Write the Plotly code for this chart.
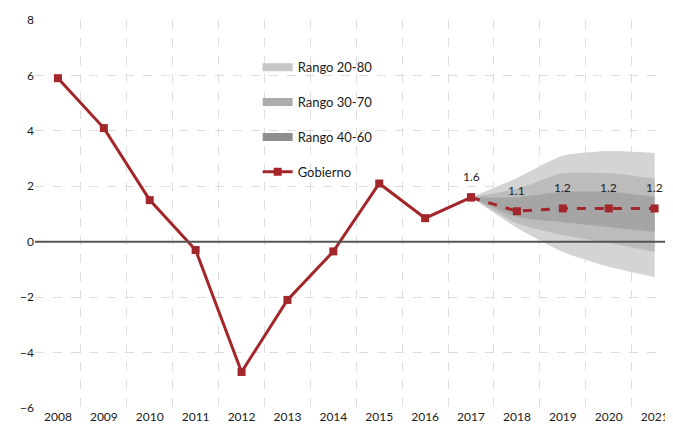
import plotly.graph_objects as go

years = [2008, 2009, 2010, 2011, 2012, 2013, 2014, 2015, 2016, 2017]
gobierno = [5.9, 4.1, 1.5, -0.3, -4.7, -2.1, -0.35, 2.1, 0.85, 1.6]

fc_years = [2017, 2018, 2019, 2020, 2021]
fc_values = [1.6, 1.1, 1.2, 1.2, 1.2]
fc_labels = ["1.6", "1.1", "1.2", "1.2", "1.2"]

r2080_hi = [1.6, 2.3, 3.1, 3.27, 3.2]
r2080_lo = [1.6, 0.5, -0.37, -0.9, -1.27]
r3070_hi = [1.6, 1.9, 2.47, 2.47, 2.28]
r3070_lo = [1.6, 0.67, 0.24, -0.05, -0.37]
r4060_hi = [1.6, 1.6, 1.8, 1.8, 1.62]
r4060_lo = [1.6, 0.9, 0.7, 0.53, 0.35]

all_years = years + fc_years[1:]
RED = "#a3262a"
FONT = "Lato"

fig = go.Figure()

bands = [
    ("Rango 20-80", r2080_hi, r2080_lo, "#d4d4d4", "#c6c6c6"),
    ("Rango 30-70", r3070_hi, r3070_lo, "#bcbcbc", "#acacac"),
    ("Rango 40-60", r4060_hi, r4060_lo, "#a5a5a5", "#8e8e8e"),
]
for name, hi, lo, fill, legc in bands:
    fig.add_trace(go.Scatter(
        x=fc_years, y=lo, mode="lines",
        line=dict(width=0, color=fill, shape="spline", smoothing=0.6),
        showlegend=False, hoverinfo="skip"))
    fig.add_trace(go.Scatter(
        x=fc_years, y=hi, mode="lines", fill="tonexty", fillcolor=fill,
        line=dict(width=0, color=fill, shape="spline", smoothing=0.6),
        showlegend=False, hoverinfo="skip"))

for i, (name, hi, lo, fill, legc) in enumerate(bands):
    fig.add_trace(go.Scatter(
        x=[None], y=[None], mode="lines", name=name,
        line=dict(color=legc, width=8), legendgroup="g%d" % i))

fig.add_trace(go.Scatter(
    x=years, y=gobierno, mode="lines+markers", name="Gobierno",
    line=dict(color=RED, width=3),
    marker=dict(symbol="square", size=8, color=RED),
    legendgroup="g9"))

fig.add_trace(go.Scatter(
    x=fc_years, y=fc_values, mode="lines+markers",
    line=dict(color=RED, width=3, dash="dash"),
    marker=dict(symbol="square", size=8, color=RED),
    showlegend=False))

for xv, yv, t in zip(fc_years, fc_values, fc_labels):
    fig.add_annotation(x=xv, y=yv, text=t, showarrow=False, yshift=21,
                       font=dict(family=FONT, size=12, color="#222222"))

# zero reference line drawn above the fan
fig.add_shape(type="line", xref="paper", x0=0, x1=1, yref="y", y0=0, y1=0,
              line=dict(color="#555555", width=2), layer="above")

grid_pos = [y - 0.5 for y in all_years] + [all_years[-1] + 0.5]

fig.update_layout(
    width=665, height=424,
    margin=dict(l=27, r=0, t=12, b=24),
    paper_bgcolor="white", plot_bgcolor="white",
    font=dict(family=FONT, size=12, color="#1a1a1a"),
    legend=dict(x=0.349, y=0.917, xanchor="left", yanchor="top",
                bgcolor="rgba(0,0,0,0)", tracegroupgap=15,
                traceorder="grouped",
                font=dict(family=FONT, size=13, color="#1a1a1a")),
    xaxis=dict(range=[2007.5, 2021.4], tickvals=all_years,
               ticktext=[str(y) for y in all_years], automargin=False,
               showgrid=False, zeroline=False, showline=False, ticks="",
               tickfont=dict(family=FONT, size=12, color="#1a1a1a"),
               minor=dict(tickvals=grid_pos, showgrid=True, griddash="dash",
                          gridcolor="#dddddd", gridwidth=1, ticks="")),
    yaxis=dict(range=[-6, 8], dtick=2, showgrid=True, griddash="dash",
               gridcolor="#dddddd", gridwidth=1, automargin=False,
               zeroline=False, showline=False, ticks="",
               tickfont=dict(family=FONT, size=12, color="#1a1a1a")),
)

fig.write_html("out.html")
